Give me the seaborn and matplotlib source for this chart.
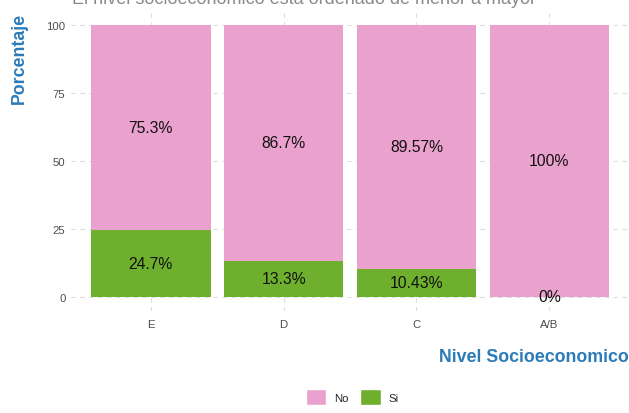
import numpy as np
import pandas as pd
import seaborn as sns
import matplotlib.pyplot as plt
from matplotlib.patches import Patch

niveles = ["E", "D", "C", "A/B"]
si = [24.7, 13.3, 10.43, 0]
no = [75.3, 86.7, 89.57, 100]

pink = "#EBA1CE"
green = "#6EB02D"
blue = "#2B7BB9"

sns.set_theme(style="white")
plt.rcParams['font.family'] = ['Liberation Sans', 'DejaVu Sans']

df = pd.DataFrame({"Nivel": niveles, "Si": si, "No": no})
df["Total"] = df["Si"] + df["No"]

fig = plt.figure(figsize=(6.29, 4.14), dpi=100)
ax = fig.add_axes([71 / 629, 1 - 311.6 / 414, 1 - 71 / 629, (311.6 - 12.4) / 414])

sns.barplot(data=df, x="Nivel", y="Total", color=pink, width=0.9, saturation=1, ax=ax, zorder=2)
sns.barplot(data=df, x="Nivel", y="Si", color=green, width=0.9, saturation=1, ax=ax, zorder=3)
for p in ax.patches:
    p.set_edgecolor("none")

for i, row in df.iterrows():
    ax.text(i, row["Si"] + row["No"] / 2, f"{row['No']:g}%", ha="center", va="center",
            fontsize=11.3, color="#111111", zorder=5)
    ax.text(i, row["Si"] / 2, f"{row['Si']:g}%", ha="center", va="center",
            fontsize=11.3, color="#111111", zorder=5)

ax.set_xlim(-0.6, 3.6)
ax.set_ylim(-5, 105)
ax.set_yticks([0, 25, 50, 75, 100])
ax.grid(True, which="major", axis="both", color="#DDDDDD", linestyle=(0, (4, 4)), linewidth=0.8, zorder=0)
ax.set_axisbelow(True)
for s in ax.spines.values():
    s.set_visible(False)
ax.tick_params(axis="both", length=0, labelsize=8.2, labelcolor="#4D4D4D", pad=4)
ax.tick_params(axis="x", pad=6)

ax.set_ylabel("Porcentaje", fontsize=12.8, fontweight="bold", color=blue, loc="top", labelpad=13)
ax.set_xlabel("Nivel Socioeconomico", fontsize=12.8, fontweight="bold", color=blue, loc="right", labelpad=14)

fig.text(72 / 629, 1.0, "El nivel socioeconomico esta ordenado de menor a mayor",
         fontsize=13, color="#8A8A8A", ha="left", va="center")

handles = [Patch(facecolor=pink, label="No"), Patch(facecolor=green, label="Si")]
fig.legend(handles=handles, loc="center", bbox_to_anchor=(0.56, 1 - 398 / 414), ncol=2,
           frameon=False, fontsize=8.2, handlelength=1.8, handleheight=1.8, columnspacing=1.0,
           handletextpad=0.7)

fig.savefig("out.png", dpi=100)
